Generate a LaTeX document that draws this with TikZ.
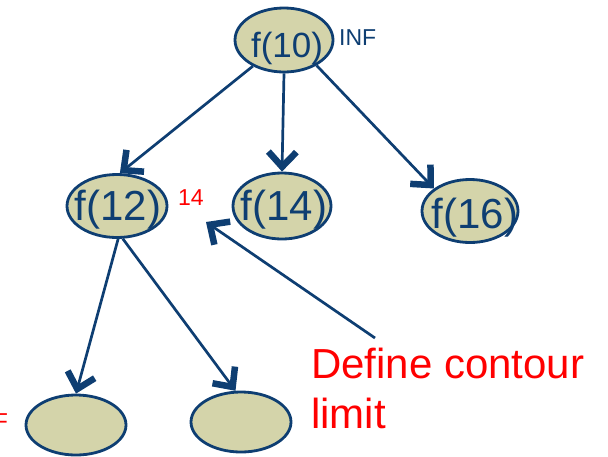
\documentclass[tikz,border=0pt]{standalone}
\usepackage{fontspec}
\setmainfont{Liberation Sans}
\usetikzlibrary{shapes.geometric,arrows.meta}
\definecolor{nblue}{RGB}{14,62,114}
\definecolor{nfill}{RGB}{212,212,170}
\tikzset{
  treenode/.style={ellipse, draw=nblue, line width=2.8pt, fill=nfill, inner sep=0pt, minimum width=98pt, minimum height=63pt},
  nodetext/.style={text=nblue, font=\fontsize{42}{42}\selectfont, inner sep=0pt, anchor=base},
  edge/.style={draw=nblue, line width=2.7pt, -{Straight Barb[length=15pt,width=28pt,line width=6.5pt]}},
  smalllab/.style={font=\fontsize{23}{23}\selectfont, inner sep=0pt},
  biglab/.style={text=red, font=\fontsize{42}{42}\selectfont, inner sep=0pt, anchor=base west}
}
\begin{document}
\begin{tikzpicture}[x=1pt,y=-1pt]
\useasboundingbox (0,0) rectangle (608,456);
\node[treenode, minimum height=64pt] (n10) at (284,40) {};
\node[treenode, minimum width=100pt] (n12) at (117,206) {};
\node[treenode, minimum height=66pt] (n14) at (282,206) {};
\node[treenode, minimum width=96pt] (n16) at (470,211) {};
\node[treenode, minimum width=100pt, minimum height=60pt] (nl) at (76,425) {};
\node[treenode, minimum width=100pt, minimum height=60pt] (nr) at (241,422) {};
\node[nodetext, font=\fontsize{35}{35}\selectfont] (t10) at (287,57) {f(10)};
\node[nodetext] (t12) at (118,220) {f(12)};
\node[nodetext] (t14) at (284,220) {f(14)};
\node[nodetext] (t16) at (475,228) {f(16)};
\node[smalllab, text=nblue, anchor=base west] (inf) at (339,45) {INF};
\node[smalllab, text=red, anchor=base west] (c14) at (178,205) {14};
\node[smalllab, text=red, anchor=base east] (infl) at (8,429) {INF};
\node[biglab] (dc1) at (311,378) {Define contour};
\node[biglab] (dc2) at (311,428) {limit};
\coordinate (ctail) at (375,338);
\coordinate (chead) at (206,222);
\draw[edge] (n10.220) -- (n12.85);
\draw[edge] (n10.270) -- (n14.90);
\draw[edge] (n10.322) -- (n16.148);
\draw[edge] (n12.272) -- (nl.90);
\draw[edge] (n12.280) -- (nr.100);
\draw[edge] (ctail) -- (chead);
\end{tikzpicture}
\end{document}
